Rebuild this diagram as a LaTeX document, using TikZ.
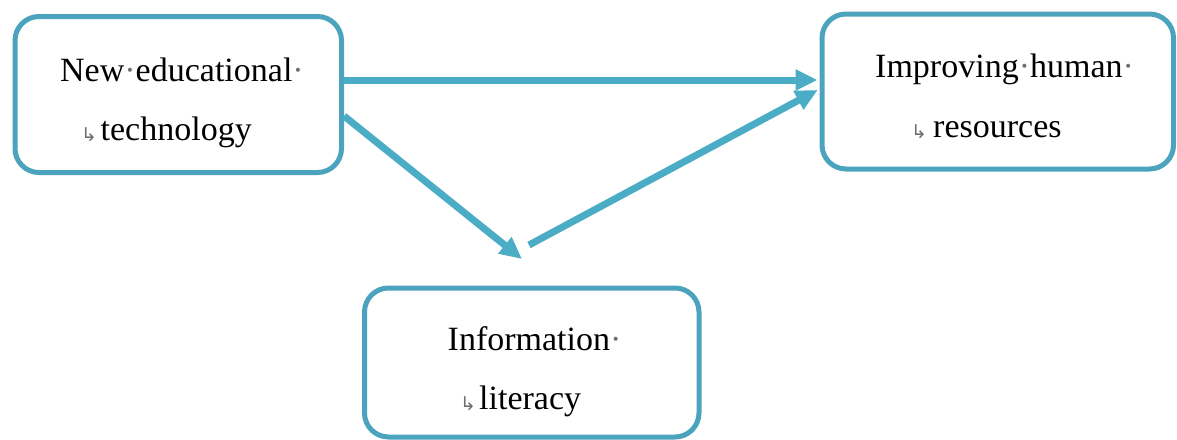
\documentclass[tikz,border=0pt]{standalone}
\usepackage{fontspec}
\setmainfont{Liberation Serif}
\newfontfamily\markfont{DejaVu Sans}
\usetikzlibrary{arrows.meta}
\definecolor{boxblue}{HTML}{4BA3BE}
\definecolor{arrblue}{HTML}{4BACC6}
\definecolor{markgray}{HTML}{6E6E6E}
\newcommand{\dotmark}{{\color{markgray}·}}
\begin{document}
\begin{tikzpicture}[x=1pt,y=-1pt,
  box/.style={draw=boxblue, line width=5pt, rounded corners=24pt, fill=white, inner sep=0pt},
  txt/.style={anchor=base west, inner sep=0pt, font=\fontsize{34}{40}\selectfont},
  brk/.style={anchor=base west, inner sep=0pt, text=markgray, font=\markfont\fontsize{19}{22}\selectfont},
  arr/.style={draw=arrblue, line width=7pt, -{Triangle[length=22pt,width=20pt]}}]
\fill[white] (0,0) rectangle (1177,439);
\useasboundingbox (0,0) rectangle (1177,439);
% boxes
\node[box, minimum width=326.5pt, minimum height=156pt] (A) at (178.25,94.5) {};
\node[box, minimum width=351.5pt, minimum height=155pt] (B) at (997.75,91.5) {};
\node[box, minimum width=334.5pt, minimum height=149pt] (C) at (531.75,362.5) {};
% free ends
\coordinate (m1) at (522,259);
\coordinate (m2) at (529,245);
% arrows
\draw[arr, shorten >=2pt] ([yshift=14.5pt]A.east) -- ([yshift=11.5pt]B.west);
\draw[arr] ([yshift=-21.5pt]A.east) -- (m1);
\draw[arr, shorten >=2pt] (m2) -- ([yshift=2.5pt]B.west);
% texts
\node[txt] (a1) at (60,81) {New\dotmark educational\dotmark};
\node[brk] (a3) at (81,141) {↳};
\node[txt] (a2) at (100.5,140) {technology};
\node[txt] (b1) at (875,77) {Improving\dotmark human\dotmark};
\node[brk] (b3) at (911,138) {↳};
\node[txt] (b2) at (933,137) {resources};
\node[txt] (c1) at (447.5,350) {Information\dotmark};
\node[brk] (c3) at (460,410) {↳};
\node[txt] (c2) at (479,409) {literacy};
\end{tikzpicture}
\end{document}
